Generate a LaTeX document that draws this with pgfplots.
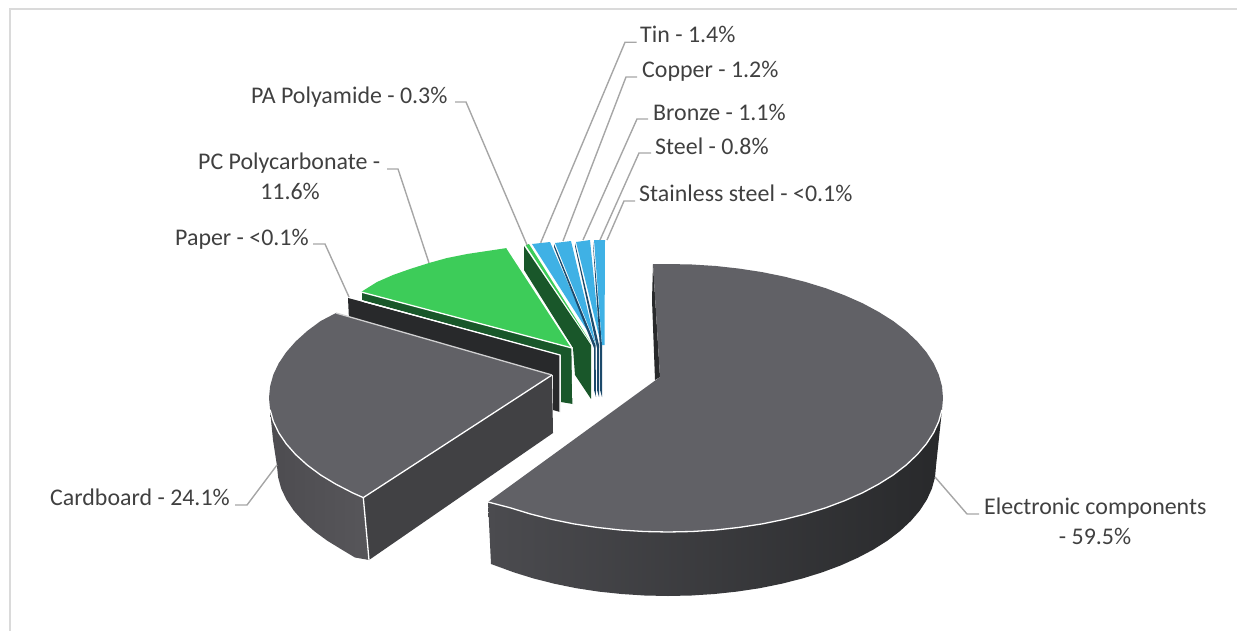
\documentclass[border=0pt]{standalone}
\usepackage{fontspec}
\setmainfont{Carlito}
\usepackage{pgfplots}
\pgfplotsset{compat=1.18}
\definecolor{topgrey}{HTML}{616166}
\definecolor{sidegrey}{HTML}{414144}
\definecolor{sideleft}{HTML}{4D4C50}
\definecolor{sideright}{HTML}{57565A}
\definecolor{elecleft}{HTML}{4B4B4F}
\definecolor{elecmid}{HTML}{323234}
\definecolor{elecright}{HTML}{28292B}
\definecolor{slab}{HTML}{28292B}
\definecolor{pcgreen}{HTML}{3DCC59}
\definecolor{darkgreen}{HTML}{19572A}
\definecolor{tinblue}{HTML}{3FB1E5}
\definecolor{darkblue}{HTML}{1C4A6B}
\definecolor{leader}{HTML}{A6A6A6}
\definecolor{labeltext}{HTML}{404040}
\definecolor{framegrey}{HTML}{DADADA}

\tikzset{lab/.style={text=labeltext,font=\fontsize{24}{28}\selectfont,inner sep=0pt}}

\begin{document}
\begin{tikzpicture}
\path[use as bounding box] (0,0) rectangle (1237bp,631bp);
\begin{axis}[
    scale only axis,
    width=1237bp,
    height=631bp,
    xmin=0, xmax=1237,
    ymin=0, ymax=631,
    y dir=reverse,
    hide axis,
    clip=true,
]
% frame
\addplot[framegrey,line width=2bp] coordinates {(9.5,631) (9.5,9.5) (1237,9.5)};

% electronic components
\addplot[draw=none,left color=elecleft,middle color=elecmid,right color=elecright] coordinates {
    (942,409.7) (938.8,421.3) (933.6,432.7) (926.4,443.8) (917.2,454.6) (906.2,465)
    (893.3,474.9) (878.7,484.1) (862.5,492.8) (844.8,500.6) (825.7,507.8) (805.5,514)
    (784.2,519.4) (762.1,523.9) (739.2,527.4) (715.8,530) (692,531.5) (668,532)
    (644,531.5) (620.2,530) (596.8,527.4) (573.9,523.9) (551.8,519.4) (530.5,514)
    (510.3,507.8) (488,502) (491,564) (514.3,572.5) (534,578.6) (554.7,583.8)
    (576.3,588.2) (598.6,591.6) (621.5,594) (644.6,595.5) (668,596) (691.4,595.5)
    (714.5,594) (736.9,591.6) (759.7,588.2) (781.3,583.8) (802,578.6) (821.7,572.5)
    (840.3,565.6) (857.5,557.9) (873.3,549.6) (887.5,540.6) (900.1,531) (910.9,520.9)
    (919.8,510.5) (926.9,499.6) (931.9,488.6) (935,477.3) (936,466)
} --cycle;
\addplot[fill=slab,draw=none] coordinates {(653,264) (660,377) (655,380) (652,300)} --cycle;
\addplot[fill=topgrey,draw=none] coordinates {
    (653,264) (668,264) (692,264.5) (715.8,266) (739.2,268.6) (762.1,272.1) (784.2,276.6)
    (805.5,282) (825.7,288.2) (844.8,295.4) (862.5,303.2) (878.7,311.9) (893.3,321.1)
    (906.2,331) (917.2,341.4) (926.4,352.2) (933.6,363.3) (938.8,374.7) (942,386.3)
    (943,398) (942,409.7) (938.8,421.3) (933.6,432.7) (926.4,443.8) (917.2,454.6) (906.2,465)
    (893.3,474.9) (878.7,484.1) (862.5,492.8) (844.8,500.6) (825.7,507.8) (805.5,514)
    (784.2,519.4) (762.1,523.9) (739.2,527.4) (715.8,530) (692,531.5) (668,532)
    (644,531.5) (620.2,530) (596.8,527.4) (573.9,523.9) (551.8,519.4) (530.5,514)
    (510.3,507.8) (488,502) (660,377)
} --cycle;
\addplot[white,line width=1.3bp] coordinates {
    (942,409.7) (938.8,421.3) (933.6,432.7) (926.4,443.8) (917.2,454.6) (906.2,465)
    (893.3,474.9) (878.7,484.1) (862.5,492.8) (844.8,500.6) (825.7,507.8) (805.5,514)
    (784.2,519.4) (762.1,523.9) (739.2,527.4) (715.8,530) (692,531.5) (668,532)
    (644,531.5) (620.2,530) (596.8,527.4) (573.9,523.9) (551.8,519.4) (530.5,514)
    (510.3,507.8) (488,502)
};

% paper
\addplot[fill=slab,draw=none] coordinates {(348,298) (560,355) (560,412) (553,410) (553,375) (349,320)} --cycle;

% cardboard
\addplot[draw=none,left color=sideleft,right color=sideright] coordinates {
    (270,409.7) (273.3,421.3) (278.7,432.7) (286.2,443.8) (295.7,454.6) (307.2,465)
    (320.5,474.9) (335.7,484.1) (352.5,492.8) (363.3,497.6) (369,560) (355,557.5)
    (341.8,549.6) (327.1,540.6) (314.1,531) (302.9,520.9) (293.7,510.5) (286.4,499.6)
    (281.2,488.6) (278.1,477.3) (277,466) (273,440)
} --cycle;
\addplot[fill=sidegrey,draw=none] coordinates {(363.3,497.6) (552,375) (553,433) (369,560)} --cycle;
\addplot[fill=topgrey,draw=none] coordinates {
    (336,313) (320.5,321.1) (307.2,331) (295.7,341.4) (286.2,352.2) (278.7,363.3)
    (273.3,374.7) (270.1,386.3) (269,398) (270.1,409.7) (273.3,421.3) (278.7,432.7)
    (286.2,443.8) (295.7,454.6) (307.2,465) (320.5,474.9) (335.7,484.1) (352.5,492.8)
    (363.3,497.6) (552,375)
} --cycle;
\addplot[white,line width=1.3bp] coordinates {
    (270.1,409.7) (273.3,421.3) (278.7,432.7) (286.2,443.8) (295.7,454.6) (307.2,465)
    (320.5,474.9) (335.7,484.1) (352.5,492.8) (363.3,497.6) (552,375)
};
\addplot[white,line width=1.3bp] coordinates {(363.3,497.6) (369,560)};
\addplot[white!70!topgrey,line width=1.3bp] coordinates {(336,313) (552,375)};

% polycarbonate
\addplot[fill=darkgreen,draw=none] coordinates {(362,292) (572,348) (573,404) (561,402) (561,355) (362,300)} --cycle;
\addplot[white,line width=1.3bp] coordinates {(362,301) (560,355) (560,412)};
% polyamide side
\addplot[fill=darkgreen,draw=none] coordinates {(524,246) (591,345) (591,399) (575,375) (573,348) (524,270)} --cycle;
\addplot[fill=pcgreen,draw=none] coordinates {
    (361,292) (377,282) (393,275) (410,269) (429,263) (447,258) (467,254) (487,251) (507,248) (572,348)
} --cycle;
\addplot[white,line width=1.3bp] coordinates {(361,292) (572,348) (573,404)};
\addplot[white,line width=1.3bp] coordinates {(507,248) (572,348)};
\addplot[fill=pcgreen,draw=none] coordinates {(525.5,245) (529,244) (591,343)} --cycle;

% metals
\addplot[fill=tinblue,draw=none] coordinates {(532,244) (550,242) (592,338)} --cycle;
\addplot[fill=darkblue,draw=none] coordinates {(554,244) (595.5,345) (596,397) (594,390) (594,348) (554,247)} --cycle;
\addplot[fill=tinblue,draw=none] coordinates {(555,243) (571,241) (596,345)} --cycle;
\addplot[fill=darkblue,draw=none] coordinates {(575,243) (599,345) (599,397) (597,390) (597,348) (575,246)} --cycle;
\addplot[fill=tinblue,draw=none] coordinates {(576,242) (590,240) (600,340)} --cycle;
\addplot[fill=darkblue,draw=none] coordinates {(593,242) (602,345) (602,397) (600,390) (600,348) (593,245)} --cycle;
\addplot[fill=tinblue,draw=none] coordinates {(594,240) (605,240) (604.5,345) (602,345)} --cycle;

% leader lines
\addplot[leader,line width=1.4bp] coordinates {(636.7,42.3) (625,42.3) (540.7,242.7)};
\addplot[leader,line width=1.4bp] coordinates {(637,77) (626,77) (563,241)};
\addplot[leader,line width=1.4bp] coordinates {(648,119) (637,119) (583,240)};
\addplot[leader,line width=1.4bp] coordinates {(651,153) (639,153) (600,240)};
\addplot[leader,line width=1.4bp] coordinates {(635,201) (624,201) (607,240)};
\addplot[leader,line width=1.4bp] coordinates {(455,102) (466,102) (527,245)};
\addplot[leader,line width=1.4bp] coordinates {(387,169) (398,169) (429,263)};
\addplot[leader,line width=1.4bp] coordinates {(313,244) (325,244) (349,297)};
\addplot[leader,line width=1.4bp] coordinates {(935,477) (967,514) (979,514)};
\addplot[leader,line width=1.4bp] coordinates {(235,505) (247,505) (277,465)};

% labels
\node[lab,anchor=base west] at (axis cs:640,43) {Tin - 1.4\%};
\node[lab,anchor=base west] at (axis cs:642,78) {Copper - 1.2\%};
\node[lab,anchor=base west] at (axis cs:653,120) {Bronze - 1.1\%};
\node[lab,anchor=base west] at (axis cs:655,154) {Steel - 0.8\%};
\node[lab,anchor=base west] at (axis cs:639,201) {Stainless steel - <0.1\%};
\node[lab,anchor=base west] at (axis cs:251,103) {PA Polyamide - 0.3\%};
\node[lab,anchor=base west] at (axis cs:198,169) {PC Polycarbonate -};
\node[lab,anchor=base] at (axis cs:290,199) {11.6\%};
\node[lab,anchor=base west] at (axis cs:175,245) {Paper - <0.1\%};
\node[lab,anchor=base west] at (axis cs:50,505) {Cardboard - 24.1\%};
\node[lab,anchor=base west] at (axis cs:984,514) {Electronic components};
\node[lab,anchor=base] at (axis cs:1095,544) {- 59.5\%};
\end{axis}
\end{tikzpicture}
\end{document}
